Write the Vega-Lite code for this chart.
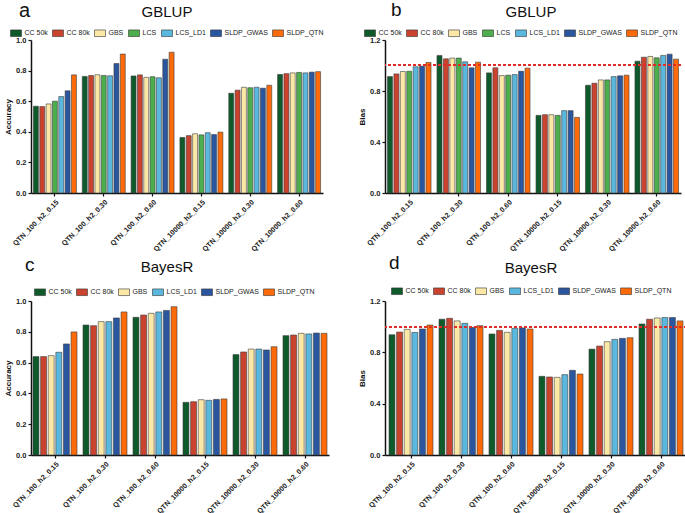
{
  "$schema": "https://vega.github.io/schema/vega-lite/v6.json",
  "background": "white",
  "padding": {"left": 4, "top": 1, "right": 5, "bottom": 1},
  "bounds": "flush",
  "align": "each",
  "columns": 2,
  "spacing": {"row": 108, "column": 56},
  "config": {
    "view": {"stroke": null},
    "font": "Liberation Sans",
    "axis": {"grid": false, "domainColor": "#111", "domainWidth": 1.5, "tickColor": "#111", "tickWidth": 1.2, "tickSize": 3, "labelFont": "Liberation Sans", "labelFontWeight": "bold", "labelFontSize": 7.5, "labelColor": "#222", "titleFont": "Liberation Sans", "titleFontWeight": "bold", "titleFontSize": 8, "titleColor": "#111"},
    "axisX": {"labelAngle": -45, "labelPadding": 2, "labelFontSize": 7.2, "title": null, "domainWidth": 1.5},
    "axisY": {"titlePadding": 3, "labelPadding": 2, "format": ".1f"},
    "legend": {"orient": "none", "direction": "horizontal", "title": null, "symbolType": "M-1,-0.6L1,-0.6L1,0.6L-1,0.6Z", "symbolSize": 121, "labelFontSize": 7, "labelFont": "Liberation Sans", "labelColor": "#222", "labelOffset": 2.5, "columnPadding": 3, "symbolStrokeColor": "#333", "symbolStrokeWidth": 0.6, "padding": 0, "symbolOpacity": 1}
  },
  "data": {"values": [
    {"p":"a","g":"QTN_100_h2_0.15","s":"CC 50k","v":0.567},{"p":"a","g":"QTN_100_h2_0.15","s":"CC 80k","v":0.565},{"p":"a","g":"QTN_100_h2_0.15","s":"GBS","v":0.582},{"p":"a","g":"QTN_100_h2_0.15","s":"LCS","v":0.600},{"p":"a","g":"QTN_100_h2_0.15","s":"LCS_LD1","v":0.630},{"p":"a","g":"QTN_100_h2_0.15","s":"SLDP_GWAS","v":0.668},{"p":"a","g":"QTN_100_h2_0.15","s":"SLDP_QTN","v":0.772},
    {"p":"a","g":"QTN_100_h2_0.30","s":"CC 50k","v":0.762},{"p":"a","g":"QTN_100_h2_0.30","s":"CC 80k","v":0.768},{"p":"a","g":"QTN_100_h2_0.30","s":"GBS","v":0.773},{"p":"a","g":"QTN_100_h2_0.30","s":"LCS","v":0.768},{"p":"a","g":"QTN_100_h2_0.30","s":"LCS_LD1","v":0.766},{"p":"a","g":"QTN_100_h2_0.30","s":"SLDP_GWAS","v":0.846},{"p":"a","g":"QTN_100_h2_0.30","s":"SLDP_QTN","v":0.908},
    {"p":"a","g":"QTN_100_h2_0.60","s":"CC 50k","v":0.765},{"p":"a","g":"QTN_100_h2_0.60","s":"CC 80k","v":0.772},{"p":"a","g":"QTN_100_h2_0.60","s":"GBS","v":0.756},{"p":"a","g":"QTN_100_h2_0.60","s":"LCS","v":0.760},{"p":"a","g":"QTN_100_h2_0.60","s":"LCS_LD1","v":0.753},{"p":"a","g":"QTN_100_h2_0.60","s":"SLDP_GWAS","v":0.874},{"p":"a","g":"QTN_100_h2_0.60","s":"SLDP_QTN","v":0.920},
    {"p":"a","g":"QTN_10000_h2_0.15","s":"CC 50k","v":0.363},{"p":"a","g":"QTN_10000_h2_0.15","s":"CC 80k","v":0.375},{"p":"a","g":"QTN_10000_h2_0.15","s":"GBS","v":0.387},{"p":"a","g":"QTN_10000_h2_0.15","s":"LCS","v":0.380},{"p":"a","g":"QTN_10000_h2_0.15","s":"LCS_LD1","v":0.394},{"p":"a","g":"QTN_10000_h2_0.15","s":"SLDP_GWAS","v":0.382},{"p":"a","g":"QTN_10000_h2_0.15","s":"SLDP_QTN","v":0.398},
    {"p":"a","g":"QTN_10000_h2_0.30","s":"CC 50k","v":0.652},{"p":"a","g":"QTN_10000_h2_0.30","s":"CC 80k","v":0.672},{"p":"a","g":"QTN_10000_h2_0.30","s":"GBS","v":0.691},{"p":"a","g":"QTN_10000_h2_0.30","s":"LCS","v":0.688},{"p":"a","g":"QTN_10000_h2_0.30","s":"LCS_LD1","v":0.691},{"p":"a","g":"QTN_10000_h2_0.30","s":"SLDP_GWAS","v":0.685},{"p":"a","g":"QTN_10000_h2_0.30","s":"SLDP_QTN","v":0.704},
    {"p":"a","g":"QTN_10000_h2_0.60","s":"CC 50k","v":0.775},{"p":"a","g":"QTN_10000_h2_0.60","s":"CC 80k","v":0.780},{"p":"a","g":"QTN_10000_h2_0.60","s":"GBS","v":0.785},{"p":"a","g":"QTN_10000_h2_0.60","s":"LCS","v":0.788},{"p":"a","g":"QTN_10000_h2_0.60","s":"LCS_LD1","v":0.785},{"p":"a","g":"QTN_10000_h2_0.60","s":"SLDP_GWAS","v":0.790},{"p":"a","g":"QTN_10000_h2_0.60","s":"SLDP_QTN","v":0.793},

    {"p":"b","g":"QTN_100_h2_0.15","s":"CC 50k","v":0.913},{"p":"b","g":"QTN_100_h2_0.15","s":"CC 80k","v":0.934},{"p":"b","g":"QTN_100_h2_0.15","s":"GBS","v":0.953},{"p":"b","g":"QTN_100_h2_0.15","s":"LCS","v":0.955},{"p":"b","g":"QTN_100_h2_0.15","s":"LCS_LD1","v":0.990},{"p":"b","g":"QTN_100_h2_0.15","s":"SLDP_GWAS","v":0.995},{"p":"b","g":"QTN_100_h2_0.15","s":"SLDP_QTN","v":1.024},
    {"p":"b","g":"QTN_100_h2_0.30","s":"CC 50k","v":1.079},{"p":"b","g":"QTN_100_h2_0.30","s":"CC 80k","v":1.052},{"p":"b","g":"QTN_100_h2_0.30","s":"GBS","v":1.058},{"p":"b","g":"QTN_100_h2_0.30","s":"LCS","v":1.058},{"p":"b","g":"QTN_100_h2_0.30","s":"LCS_LD1","v":1.029},{"p":"b","g":"QTN_100_h2_0.30","s":"SLDP_GWAS","v":0.982},{"p":"b","g":"QTN_100_h2_0.30","s":"SLDP_QTN","v":1.026},
    {"p":"b","g":"QTN_100_h2_0.60","s":"CC 50k","v":0.942},{"p":"b","g":"QTN_100_h2_0.60","s":"CC 80k","v":0.982},{"p":"b","g":"QTN_100_h2_0.60","s":"GBS","v":0.921},{"p":"b","g":"QTN_100_h2_0.60","s":"LCS","v":0.924},{"p":"b","g":"QTN_100_h2_0.60","s":"LCS_LD1","v":0.929},{"p":"b","g":"QTN_100_h2_0.60","s":"SLDP_GWAS","v":0.955},{"p":"b","g":"QTN_100_h2_0.60","s":"SLDP_QTN","v":0.979},
    {"p":"b","g":"QTN_10000_h2_0.15","s":"CC 50k","v":0.609},{"p":"b","g":"QTN_10000_h2_0.15","s":"CC 80k","v":0.614},{"p":"b","g":"QTN_10000_h2_0.15","s":"GBS","v":0.614},{"p":"b","g":"QTN_10000_h2_0.15","s":"LCS","v":0.609},{"p":"b","g":"QTN_10000_h2_0.15","s":"LCS_LD1","v":0.646},{"p":"b","g":"QTN_10000_h2_0.15","s":"SLDP_GWAS","v":0.646},{"p":"b","g":"QTN_10000_h2_0.15","s":"SLDP_QTN","v":0.593},
    {"p":"b","g":"QTN_10000_h2_0.30","s":"CC 50k","v":0.845},{"p":"b","g":"QTN_10000_h2_0.30","s":"CC 80k","v":0.861},{"p":"b","g":"QTN_10000_h2_0.30","s":"GBS","v":0.887},{"p":"b","g":"QTN_10000_h2_0.30","s":"LCS","v":0.887},{"p":"b","g":"QTN_10000_h2_0.30","s":"LCS_LD1","v":0.913},{"p":"b","g":"QTN_10000_h2_0.30","s":"SLDP_GWAS","v":0.919},{"p":"b","g":"QTN_10000_h2_0.30","s":"SLDP_QTN","v":0.924},
    {"p":"b","g":"QTN_10000_h2_0.60","s":"CC 50k","v":1.034},{"p":"b","g":"QTN_10000_h2_0.60","s":"CC 80k","v":1.065},{"p":"b","g":"QTN_10000_h2_0.60","s":"GBS","v":1.071},{"p":"b","g":"QTN_10000_h2_0.60","s":"LCS","v":1.060},{"p":"b","g":"QTN_10000_h2_0.60","s":"LCS_LD1","v":1.079},{"p":"b","g":"QTN_10000_h2_0.60","s":"SLDP_GWAS","v":1.089},{"p":"b","g":"QTN_10000_h2_0.60","s":"SLDP_QTN","v":1.050},

    {"p":"c","g":"QTN_100_h2_0.15","s":"CC 50k","v":0.639},{"p":"c","g":"QTN_100_h2_0.15","s":"CC 80k","v":0.639},{"p":"c","g":"QTN_100_h2_0.15","s":"GBS","v":0.645},{"p":"c","g":"QTN_100_h2_0.15","s":"LCS_LD1","v":0.667},{"p":"c","g":"QTN_100_h2_0.15","s":"SLDP_GWAS","v":0.721},{"p":"c","g":"QTN_100_h2_0.15","s":"SLDP_QTN","v":0.799},
    {"p":"c","g":"QTN_100_h2_0.30","s":"CC 50k","v":0.844},{"p":"c","g":"QTN_100_h2_0.30","s":"CC 80k","v":0.840},{"p":"c","g":"QTN_100_h2_0.30","s":"GBS","v":0.866},{"p":"c","g":"QTN_100_h2_0.30","s":"LCS_LD1","v":0.866},{"p":"c","g":"QTN_100_h2_0.30","s":"SLDP_GWAS","v":0.890},{"p":"c","g":"QTN_100_h2_0.30","s":"SLDP_QTN","v":0.929},
    {"p":"c","g":"QTN_100_h2_0.60","s":"CC 50k","v":0.894},{"p":"c","g":"QTN_100_h2_0.60","s":"CC 80k","v":0.909},{"p":"c","g":"QTN_100_h2_0.60","s":"GBS","v":0.920},{"p":"c","g":"QTN_100_h2_0.60","s":"LCS_LD1","v":0.929},{"p":"c","g":"QTN_100_h2_0.60","s":"SLDP_GWAS","v":0.939},{"p":"c","g":"QTN_100_h2_0.60","s":"SLDP_QTN","v":0.963},
    {"p":"c","g":"QTN_10000_h2_0.15","s":"CC 50k","v":0.342},{"p":"c","g":"QTN_10000_h2_0.15","s":"CC 80k","v":0.346},{"p":"c","g":"QTN_10000_h2_0.15","s":"GBS","v":0.359},{"p":"c","g":"QTN_10000_h2_0.15","s":"LCS_LD1","v":0.355},{"p":"c","g":"QTN_10000_h2_0.15","s":"SLDP_GWAS","v":0.361},{"p":"c","g":"QTN_10000_h2_0.15","s":"SLDP_QTN","v":0.364},
    {"p":"c","g":"QTN_10000_h2_0.30","s":"CC 50k","v":0.652},{"p":"c","g":"QTN_10000_h2_0.30","s":"CC 80k","v":0.669},{"p":"c","g":"QTN_10000_h2_0.30","s":"GBS","v":0.688},{"p":"c","g":"QTN_10000_h2_0.30","s":"LCS_LD1","v":0.688},{"p":"c","g":"QTN_10000_h2_0.30","s":"SLDP_GWAS","v":0.682},{"p":"c","g":"QTN_10000_h2_0.30","s":"SLDP_QTN","v":0.703},
    {"p":"c","g":"QTN_10000_h2_0.60","s":"CC 50k","v":0.775},{"p":"c","g":"QTN_10000_h2_0.60","s":"CC 80k","v":0.779},{"p":"c","g":"QTN_10000_h2_0.60","s":"GBS","v":0.790},{"p":"c","g":"QTN_10000_h2_0.60","s":"LCS_LD1","v":0.786},{"p":"c","g":"QTN_10000_h2_0.60","s":"SLDP_GWAS","v":0.792},{"p":"c","g":"QTN_10000_h2_0.60","s":"SLDP_QTN","v":0.790},

    {"p":"d","g":"QTN_100_h2_0.15","s":"CC 50k","v":0.937},{"p":"d","g":"QTN_100_h2_0.15","s":"CC 80k","v":0.958},{"p":"d","g":"QTN_100_h2_0.15","s":"GBS","v":0.979},{"p":"d","g":"QTN_100_h2_0.15","s":"LCS_LD1","v":0.955},{"p":"d","g":"QTN_100_h2_0.15","s":"SLDP_GWAS","v":0.982},{"p":"d","g":"QTN_100_h2_0.15","s":"SLDP_QTN","v":1.013},
    {"p":"d","g":"QTN_100_h2_0.30","s":"CC 50k","v":1.058},{"p":"d","g":"QTN_100_h2_0.30","s":"CC 80k","v":1.065},{"p":"d","g":"QTN_100_h2_0.30","s":"GBS","v":1.045},{"p":"d","g":"QTN_100_h2_0.30","s":"LCS_LD1","v":1.026},{"p":"d","g":"QTN_100_h2_0.30","s":"SLDP_GWAS","v":0.995},{"p":"d","g":"QTN_100_h2_0.30","s":"SLDP_QTN","v":1.008},
    {"p":"d","g":"QTN_100_h2_0.60","s":"CC 50k","v":0.943},{"p":"d","g":"QTN_100_h2_0.60","s":"CC 80k","v":0.971},{"p":"d","g":"QTN_100_h2_0.60","s":"GBS","v":0.956},{"p":"d","g":"QTN_100_h2_0.60","s":"LCS_LD1","v":0.987},{"p":"d","g":"QTN_100_h2_0.60","s":"SLDP_GWAS","v":0.990},{"p":"d","g":"QTN_100_h2_0.60","s":"SLDP_QTN","v":0.982},
    {"p":"d","g":"QTN_10000_h2_0.15","s":"CC 50k","v":0.613},{"p":"d","g":"QTN_10000_h2_0.15","s":"CC 80k","v":0.608},{"p":"d","g":"QTN_10000_h2_0.15","s":"GBS","v":0.605},{"p":"d","g":"QTN_10000_h2_0.15","s":"LCS_LD1","v":0.626},{"p":"d","g":"QTN_10000_h2_0.15","s":"SLDP_GWAS","v":0.660},{"p":"d","g":"QTN_10000_h2_0.15","s":"SLDP_QTN","v":0.631},
    {"p":"d","g":"QTN_10000_h2_0.30","s":"CC 50k","v":0.825},{"p":"d","g":"QTN_10000_h2_0.30","s":"CC 80k","v":0.849},{"p":"d","g":"QTN_10000_h2_0.30","s":"GBS","v":0.883},{"p":"d","g":"QTN_10000_h2_0.30","s":"LCS_LD1","v":0.901},{"p":"d","g":"QTN_10000_h2_0.30","s":"SLDP_GWAS","v":0.909},{"p":"d","g":"QTN_10000_h2_0.30","s":"SLDP_QTN","v":0.914},
    {"p":"d","g":"QTN_10000_h2_0.60","s":"CC 50k","v":1.021},{"p":"d","g":"QTN_10000_h2_0.60","s":"CC 80k","v":1.058},{"p":"d","g":"QTN_10000_h2_0.60","s":"GBS","v":1.068},{"p":"d","g":"QTN_10000_h2_0.60","s":"LCS_LD1","v":1.071},{"p":"d","g":"QTN_10000_h2_0.60","s":"SLDP_GWAS","v":1.071},{"p":"d","g":"QTN_10000_h2_0.60","s":"SLDP_QTN","v":1.045}
  ]},
  "resolve": {"scale": {"color": "independent", "x": "independent", "y": "independent", "xOffset": "independent"}},
  "concat": [
    {
      "width": 292, "height": 153,
      "layer": [
        {
          "transform": [{"filter": "datum.p === 'a'"}],
          "mark": {"type": "bar", "stroke": "#3c3c3c", "strokeWidth": 0.6},
          "encoding": {
            "x": {"field": "g", "type": "nominal", "sort": null, "scale": {"paddingInner": 0.12, "paddingOuter": 0.05}},
            "xOffset": {"field": "s", "type": "nominal", "sort": null, "scale": {"paddingInner": 0.22}},
            "y": {"field": "v", "type": "quantitative", "scale": {"domain": [0, 1]}, "axis": {"title": "Accuracy", "values": [0, 0.2, 0.4, 0.6, 0.8, 1.0]}},
            "color": {"field": "s", "type": "nominal", "sort": null,
              "scale": {"domain": ["CC 50k", "CC 80k", "GBS", "LCS", "LCS_LD1", "SLDP_GWAS", "SLDP_QTN"], "range": ["#0e5a2b", "#c9432f", "#fce8a6", "#4cae4c", "#5ab8de", "#2a56a0", "#fd6a0a"]},
              "legend": {"legendX": -21, "legendY": -13, "columns": 7}}
          }
        },
        {
          "data": {"values": [{"t": "a"}]},
          "mark": {"type": "text", "fontSize": 20, "align": "left", "baseline": "alphabetic", "color": "#111"},
          "encoding": {"x": {"value": -12}, "y": {"value": -23}, "text": {"field": "t"}}
        },
        {
          "data": {"values": [{"t": "GBLUP"}]},
          "mark": {"type": "text", "fontSize": 15, "align": "center", "baseline": "alphabetic", "color": "#111"},
          "encoding": {"x": {"value": 136}, "y": {"value": -23}, "text": {"field": "t"}}
        }
      ]
    },
    {
      "width": 296, "height": 153,
      "layer": [
        {
          "transform": [{"filter": "datum.p === 'b'"}],
          "mark": {"type": "bar", "stroke": "#3c3c3c", "strokeWidth": 0.6},
          "encoding": {
            "x": {"field": "g", "type": "nominal", "sort": null, "scale": {"paddingInner": 0.12, "paddingOuter": 0.05}},
            "xOffset": {"field": "s", "type": "nominal", "sort": null, "scale": {"paddingInner": 0.22}},
            "y": {"field": "v", "type": "quantitative", "scale": {"domain": [0, 1.2]}, "axis": {"title": "Bias", "values": [0, 0.2, 0.4, 0.6, 0.8, 1.0, 1.2]}},
            "color": {"field": "s", "type": "nominal", "sort": null,
              "scale": {"domain": ["CC 50k", "CC 80k", "GBS", "LCS", "LCS_LD1", "SLDP_GWAS", "SLDP_QTN"], "range": ["#0e5a2b", "#c9432f", "#fce8a6", "#4cae4c", "#5ab8de", "#2a56a0", "#fd6a0a"]},
              "legend": {"legendX": -21, "legendY": -13, "columns": 7}}
          }
        },
        {
          "mark": {"type": "rule", "color": "#e0302a", "strokeDash": [3, 2], "strokeWidth": 1.3, "opacity": 0.9},
          "encoding": {"y": {"datum": 1.001}}
        },
        {
          "data": {"values": [{"t": "b"}]},
          "mark": {"type": "text", "fontSize": 19, "align": "left", "baseline": "alphabetic", "color": "#111"},
          "encoding": {"x": {"value": 6}, "y": {"value": -24}, "text": {"field": "t"}}
        },
        {
          "data": {"values": [{"t": "GBLUP"}]},
          "mark": {"type": "text", "fontSize": 15, "align": "center", "baseline": "alphabetic", "color": "#111"},
          "encoding": {"x": {"value": 146}, "y": {"value": -23}, "text": {"field": "t"}}
        }
      ]
    },
    {
      "width": 298, "height": 154,
      "layer": [
        {
          "transform": [{"filter": "datum.p === 'c'"}],
          "mark": {"type": "bar", "stroke": "#3c3c3c", "strokeWidth": 0.6},
          "encoding": {
            "x": {"field": "g", "type": "nominal", "sort": null, "scale": {"paddingInner": 0.12, "paddingOuter": 0.04}},
            "xOffset": {"field": "s", "type": "nominal", "sort": null, "scale": {"paddingInner": 0.22}},
            "y": {"field": "v", "type": "quantitative", "scale": {"domain": [0, 1]}, "axis": {"title": "Accuracy", "values": [0, 0.2, 0.4, 0.6, 0.8, 1.0]}},
            "color": {"field": "s", "type": "nominal", "sort": null,
              "scale": {"domain": ["CC 50k", "CC 80k", "GBS", "LCS_LD1", "SLDP_GWAS", "SLDP_QTN"], "range": ["#0e5a2b", "#c9432f", "#fce8a6", "#5ab8de", "#2a56a0", "#fd6a0a"]},
              "legend": {"legendX": 3, "legendY": -15, "columns": 6}}
          }
        },
        {
          "data": {"values": [{"t": "c"}]},
          "mark": {"type": "text", "fontSize": 19, "align": "left", "baseline": "alphabetic", "color": "#111"},
          "encoding": {"x": {"value": -6}, "y": {"value": -30}, "text": {"field": "t"}}
        },
        {
          "data": {"values": [{"t": "BayesR"}]},
          "mark": {"type": "text", "fontSize": 15, "align": "center", "baseline": "alphabetic", "color": "#111"},
          "encoding": {"x": {"value": 136}, "y": {"value": -29}, "text": {"field": "t"}}
        }
      ]
    },
    {
      "width": 302, "height": 154,
      "layer": [
        {
          "transform": [{"filter": "datum.p === 'd'"}],
          "mark": {"type": "bar", "stroke": "#3c3c3c", "strokeWidth": 0.6},
          "encoding": {
            "x": {"field": "g", "type": "nominal", "sort": null, "scale": {"paddingInner": 0.12, "paddingOuter": 0.08}},
            "xOffset": {"field": "s", "type": "nominal", "sort": null, "scale": {"paddingInner": 0.22}},
            "y": {"field": "v", "type": "quantitative", "scale": {"domain": [0, 1.2]}, "axis": {"title": "Bias", "values": [0, 0.2, 0.4, 0.6, 0.8, 1.0, 1.2]}},
            "color": {"field": "s", "type": "nominal", "sort": null,
              "scale": {"domain": ["CC 50k", "CC 80k", "GBS", "LCS_LD1", "SLDP_GWAS", "SLDP_QTN"], "range": ["#0e5a2b", "#c9432f", "#fce8a6", "#5ab8de", "#2a56a0", "#fd6a0a"]},
              "legend": {"legendX": 6, "legendY": -16, "columns": 6}}
          }
        },
        {
          "mark": {"type": "rule", "color": "#e0302a", "strokeDash": [3, 2], "strokeWidth": 1.3, "opacity": 0.9},
          "encoding": {"y": {"datum": 1.001}}
        },
        {
          "data": {"values": [{"t": "d"}]},
          "mark": {"type": "text", "fontSize": 19, "align": "left", "baseline": "alphabetic", "color": "#111"},
          "encoding": {"x": {"value": 4}, "y": {"value": -32}, "text": {"field": "t"}}
        },
        {
          "data": {"values": [{"t": "BayesR"}]},
          "mark": {"type": "text", "fontSize": 15, "align": "center", "baseline": "alphabetic", "color": "#111"},
          "encoding": {"x": {"value": 146}, "y": {"value": -28}, "text": {"field": "t"}}
        }
      ]
    }
  ]
}
